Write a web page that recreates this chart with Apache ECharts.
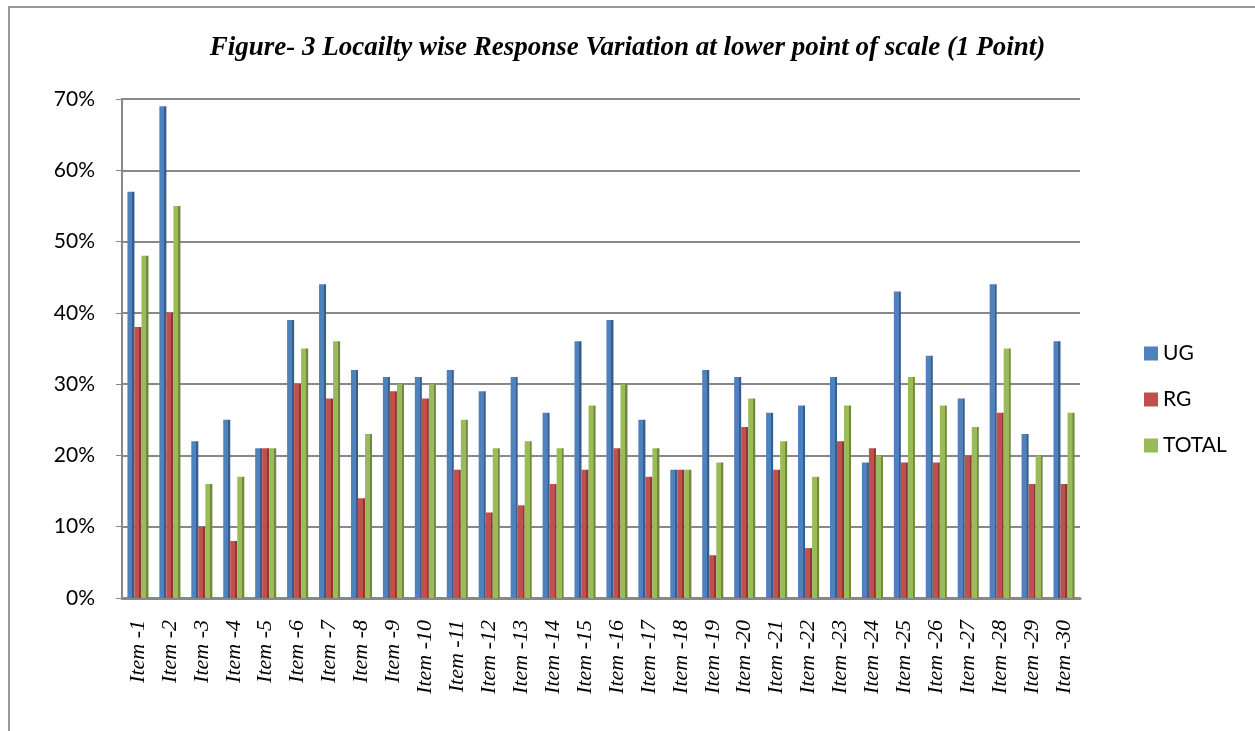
<!DOCTYPE html>
<html>
<head>
<meta charset="utf-8">
<script src="https://cdn.jsdelivr.net/npm/echarts@6/dist/echarts.min.js"></script>
<style>
  html, body { margin: 0; padding: 0; background: #fff; }
  #frame {
    position: absolute; left: 8px; top: 6px; width: 1400px; height: 900px;
    border-left: 2px solid #999; border-top: 2px solid #999;
  }
  #main { position: absolute; left: 0; top: 0; width: 1255px; height: 731px; }
</style>
</head>
<body>
<div id="frame"></div>
<div id="main"></div>
<script>
const categories = [
  'Item -1', 'Item -2', 'Item -3', 'Item -4', 'Item -5', 'Item -6', 'Item -7', 'Item -8', 'Item -9', 'Item -10',
  'Item -11', 'Item -12', 'Item -13', 'Item -14', 'Item -15', 'Item -16', 'Item -17', 'Item -18', 'Item -19', 'Item -20',
  'Item -21', 'Item -22', 'Item -23', 'Item -24', 'Item -25', 'Item -26', 'Item -27', 'Item -28', 'Item -29', 'Item -30'
]
const ugValues = [57, 69, 22, 25, 21, 39, 44, 32, 31, 31, 32, 29, 31, 26, 36, 39, 25, 18, 32, 31, 26, 27, 31, 19, 43, 34, 28, 44, 23, 36]
const rgValues = [38, 40, 10, 8, 21, 30, 28, 14, 29, 28, 18, 12, 13, 16, 18, 21, 17, 18, 6, 24, 18, 7, 22, 21, 19, 19, 20, 26, 16, 16]
const totalValues = [48, 55, 16, 17, 21, 35, 36, 23, 30, 30, 25, 21, 22, 21, 27, 30, 21, 18, 19, 28, 22, 17, 27, 20, 31, 27, 24, 35, 20, 26]

// shaded bar like the old 3D office charts
const shade = (c, d) => new echarts.graphic.LinearGradient(0, 0, 1, 0, [
  { offset: 0, color: c },
  { offset: 0.7, color: c },
  { offset: 0.71, color: d },
  { offset: 1, color: d }
])

const chart = echarts.init(document.getElementById('main'))
const option = {
  animation: false,
  title: {
    text: 'Figure- 3 Locailty wise Response Variation at lower point of scale (1 Point)',
    left: 'center',
    top: 30,
    textStyle: {
      fontFamily: 'Liberation Serif',
      fontStyle: 'italic',
      fontWeight: 'bold',
      fontSize: 27,
      color: '#000'
    }
  },
  legend: {
    orient: 'vertical',
    left: 1139,
    top: 338,
    itemWidth: 14,
    itemHeight: 14,
    itemGap: 25,
    icon: 'rect',
    textStyle: { fontFamily: 'Lato', fontSize: 21, color: '#000' },
    data: [
      { name: 'UG', itemStyle: { color: '#4F81BD' } },
      { name: 'RG', itemStyle: { color: '#C0504D' } },
      { name: 'TOTAL', itemStyle: { color: '#9BBB59' } }
    ]
  },
  grid: { left: 122, right: 175, top: 99, bottom: 133 },
  xAxis: {
    type: 'category',
    data: categories,
    axisLine: { lineStyle: { color: '#888', width: 3 } },
    axisTick: { show: false },
    axisLabel: {
      rotate: 90,
      interval: 0,
      margin: 22,
      fontFamily: 'Liberation Serif',
      fontStyle: 'italic',
      fontSize: 22,
      color: '#000'
    }
  },
  yAxis: {
    type: 'value',
    min: 0,
    max: 70,
    interval: 10,
    axisLine: { show: true, lineStyle: { color: '#888', width: 2 } },
    axisTick: { show: true, length: 6, lineStyle: { color: '#888' } },
    splitLine: { lineStyle: { color: '#888', width: 2 } },
    axisLabel: {
      formatter: '{value}%',
      margin: 27,
      fontFamily: 'Lato',
      fontSize: 21,
      color: '#000'
    }
  },
  series: [
    { name: 'UG', type: 'bar', data: ugValues, barGap: '0%', barCategoryGap: '34%',
      itemStyle: { color: shade('#4F81BD', '#385D8A') } },
    { name: 'RG', type: 'bar', data: rgValues,
      itemStyle: { color: shade('#C0504D', '#8C3836') } },
    { name: 'TOTAL', type: 'bar', data: totalValues,
      itemStyle: { color: shade('#9BBB59', '#71893F') } }
  ]
}
chart.setOption(option)
</script>
</body>
</html>
